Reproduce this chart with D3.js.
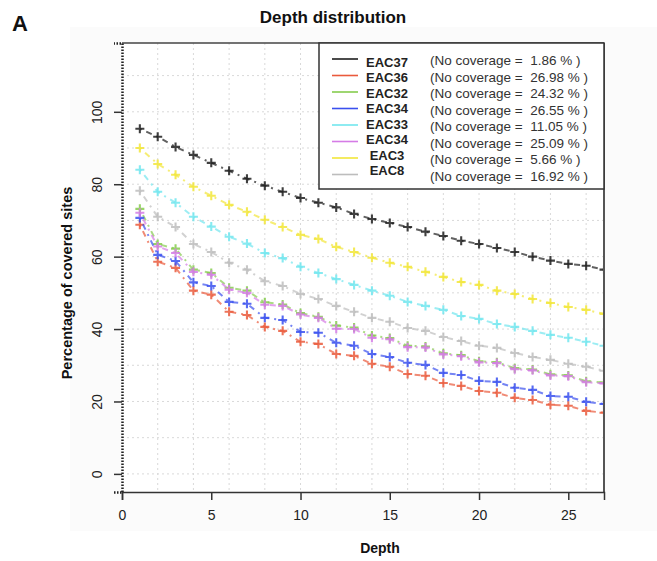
<!DOCTYPE html>
<html>
<head>
<meta charset="utf-8">
<script src="https://cdn.jsdelivr.net/npm/d3@7"></script>
<style>
  html, body { margin: 0; padding: 0; background: #ffffff; }
  svg { display: block; font-family: "Liberation Sans", Arial, sans-serif; }
</style>
</head>
<body>
<svg id="chart" width="657" height="561"></svg>
<script>
// ---------------- DATA ----------------
const depths = [1,2,3,4,5,6,7,8,9,10,11,12,13,14,15,16,17,18,19,20,21,22,23,24,25,26,27];
const seriesNames = ["EAC37","EAC36","EAC32","EAC34","EAC33","EAC34","EAC3","EAC8"];
const noCoverage = ["1.86","26.98","24.32","26.55","11.05","25.09","5.66","16.92"];

const eac37 = [95.3,93.1,90.3,88.1,85.9,83.7,81.5,79.6,77.9,76.2,74.9,73.6,71.8,70.4,69.3,68.2,66.9,65.7,64.4,63.5,62.4,61.3,60.0,58.9,58.0,57.5,56.4];
const eac36 = [68.8,58.6,56.9,50.6,49.5,44.8,43.9,40.6,39.5,36.5,35.9,33.1,32.6,30.4,29.6,27.6,27.1,25.1,24.3,22.9,22.4,21.0,20.4,19.1,18.8,17.4,16.9];
const eac32 = [73.2,63.5,62.2,56.4,55.5,51.4,50.6,47.4,46.8,44.4,43.4,41.0,40.4,38.2,37.5,35.4,35.2,33.3,32.8,31.1,30.8,29.2,28.8,27.5,27.2,25.6,25.2];
const eac34a = [70.7,60.5,58.8,52.9,51.9,47.5,47.0,43.1,42.5,39.2,39.0,36.2,35.4,33.1,32.3,30.7,30.1,27.9,27.3,25.7,25.4,23.8,23.2,21.5,21.3,19.9,19.3];
const eac33 = [84.0,77.9,74.9,71.0,68.3,65.5,63.6,61.0,59.6,57.2,55.5,53.8,52.2,50.6,49.2,47.5,46.4,45.3,43.6,42.8,41.4,40.6,39.5,38.4,37.6,36.5,35.4];
const eac34b = [72.1,62.8,61.0,55.8,55.0,50.9,50.0,46.7,46.4,44.0,43.1,40.1,40.0,37.6,37.2,35.0,34.9,33.0,32.5,30.8,30.6,28.9,28.6,27.2,27.0,25.3,25.0];
const eac3 = [90.0,85.6,82.6,79.3,76.8,74.3,72.4,70.2,68.2,66.0,64.9,62.7,61.3,59.7,58.3,57.2,55.8,54.4,53.0,52.2,50.6,49.7,48.3,47.2,46.1,45.3,44.2];
const eac8 = [78.2,71.0,68.2,63.5,61.3,58.3,56.4,53.2,51.9,49.7,48.3,46.4,44.8,43.1,42.0,40.3,39.5,37.8,36.7,35.4,34.8,33.4,32.3,31.5,30.4,29.6,28.5];

const seriesValues = [eac37, eac36, eac32, eac34a, eac33, eac34b, eac3, eac8];

const xTicks = [0,5,10,15,20,25];
const yTicks = [0,20,40,60,80,100];
const xGrid = [2,4,6,8,10,12,14,16,18,20,22,24,26];
const yGrid = [0,10,20,30,40,50,60,70,80,90,100,110];

// ---------------- STYLE ----------------
const colors = ["#1e1e1e","#ea5a3c","#86cc4e","#3a50ee","#72e6ee","#d57ce6","#f2e63a","#bdbdbd"];

const svg = d3.select("#chart");
const plot = {left: 122, right: 604, top: 43, bottom: 492};

const x = d3.scaleLinear().domain([0, 27]).range([plot.left, plot.right]);
const y = d3.scaleLinear().domain([-5, 119]).range([plot.bottom, plot.top]);

// faint figure panel
svg.append("rect").attr("x", 70).attr("y", 27).attr("width", 587).attr("height", 504)
  .attr("fill", "#fbfbfb");

// plot background
svg.append("rect").attr("x", plot.left).attr("y", plot.top)
  .attr("width", plot.right - plot.left).attr("height", plot.bottom - plot.top)
  .attr("fill", "#ffffff");

// grid
const grid = svg.append("g");
grid.selectAll("line.gx").data(xGrid).join("line")
  .attr("x1", d => x(d)).attr("x2", d => x(d))
  .attr("y1", plot.top).attr("y2", plot.bottom)
  .attr("stroke", "#d9d9d9").attr("stroke-width", 1).attr("stroke-dasharray", "2,3");
grid.selectAll("line.gy").data(yGrid).join("line")
  .attr("x1", plot.left).attr("x2", plot.right)
  .attr("y1", d => y(d)).attr("y2", d => y(d))
  .attr("stroke", "#d9d9d9").attr("stroke-width", 1).attr("stroke-dasharray", "2,3");

// clip
svg.append("clipPath").attr("id", "clip").append("rect")
  .attr("x", plot.left).attr("y", plot.top)
  .attr("width", plot.right - plot.left).attr("height", plot.bottom - plot.top);

const data = seriesNames.map((name, i) => ({
  name, color: colors[i],
  points: depths.map((d, j) => ({d, v: seriesValues[i][j]}))
}));

const line = d3.line().x(p => x(p.d)).y(p => y(p.v));
const g = svg.append("g").attr("clip-path", "url(#clip)");

const sg = g.selectAll("g.series").data(data).join("g").attr("class", "series");
sg.append("path")
  .attr("d", s => line(s.points))
  .attr("fill", "none")
  .attr("stroke", s => s.color)
  .attr("stroke-width", 2)
  .attr("stroke-opacity", 0.7)
  .attr("stroke-dasharray", "2,5,6,5");
sg.selectAll("path.pt").data(s => s.points.map(p => ({...p, color: s.color}))).join("path")
  .attr("class", "pt")
  .attr("transform", p => `translate(${x(p.d)},${y(p.v)})`)
  .attr("d", "M-4.5,0H4.5M0,-4.5V4.5")
  .attr("stroke", p => p.color)
  .attr("stroke-width", 2.1)
  .attr("stroke-opacity", 0.85);

// frame: top and right
svg.append("line").attr("x1", plot.left).attr("x2", plot.right).attr("y1", plot.top).attr("y2", plot.top)
  .attr("stroke", "#444").attr("stroke-width", 1.5);
svg.append("line").attr("x1", plot.right).attr("x2", plot.right).attr("y1", plot.top).attr("y2", plot.bottom)
  .attr("stroke", "#555").attr("stroke-width", 2);

// axes
const xAxis = d3.axisBottom(x).tickValues(xTicks).tickSize(8).tickFormat(d3.format("d"));
const gx = svg.append("g").attr("transform", `translate(0,${plot.bottom})`).call(xAxis);
gx.select(".domain").attr("stroke", "#333").attr("stroke-width", 1.5);
gx.selectAll(".tick line").attr("stroke", "#333").attr("stroke-width", 1.5);
gx.selectAll(".tick text").attr("font-size", 14).attr("fill", "#222")
  .attr("font-family", "Liberation Sans, Arial, sans-serif").attr("dy", "1.2em");

const yAxis = d3.axisLeft(y).tickValues(yTicks).tickSize(8).tickFormat(d3.format("d"));
const gy = svg.append("g").attr("transform", `translate(${plot.left},0)`).call(yAxis);
gy.select(".domain").attr("stroke", "#222").attr("stroke-width", 2.5).attr("stroke-dasharray", "1.5,1.5");
gy.selectAll(".tick line").attr("stroke", "#333").attr("stroke-width", 1.5);
gy.selectAll(".tick text")
  .attr("font-size", 14).attr("fill", "#222")
  .attr("font-family", "Liberation Sans, Arial, sans-serif")
  .attr("text-anchor", "middle")
  .attr("x", 0).attr("dy", 0)
  .attr("transform", d => `translate(-20,${0}) rotate(-90)`);

// titles
svg.append("text").attr("x", 12).attr("y", 31).text("A")
  .attr("font-size", 22).attr("font-weight", "bold").attr("fill", "#111");
svg.append("text").attr("x", 333).attr("y", 23).attr("text-anchor", "middle")
  .text("Depth distribution").attr("font-size", 17).attr("font-weight", "bold").attr("fill", "#111");
svg.append("text").attr("x", 380).attr("y", 553).attr("text-anchor", "middle")
  .text("Depth").attr("font-size", 14).attr("font-weight", "bold").attr("fill", "#111");
svg.append("text").attr("transform", "translate(72,283) rotate(-90)").attr("text-anchor", "middle")
  .text("Percentage of covered sites").attr("font-size", 14.5).attr("font-weight", "bold").attr("fill", "#111");

// legend
const lg = svg.append("g");
lg.append("rect").attr("x", 319).attr("y", 43).attr("width", 285).attr("height", 146)
  .attr("fill", "#ffffff").attr("stroke", "#333").attr("stroke-width", 1.5);
const rows = lg.selectAll("g.row").data(data).join("g").attr("class", "row");
rows.append("line")
  .attr("x1", 332).attr("x2", 358)
  .attr("y1", (d, i) => 59 + i * 16.5).attr("y2", (d, i) => 59 + i * 16.5)
  .attr("stroke", d => d.color).attr("stroke-width", 1.6);
rows.append("text")
  .attr("x", 387).attr("y", (d, i) => 66.5 + i * 15.5)
  .attr("text-anchor", "middle")
  .attr("font-size", 13).attr("font-weight", "bold").attr("fill", "#222")
  .text(d => d.name);
rows.append("text")
  .attr("x", 430).attr("y", (d, i) => 65 + i * 16.5)
  .attr("font-size", 13.5).attr("fill", "#333")
  .style("white-space", "pre")
  .text((d, i) => "(No coverage =  " + noCoverage[i] + " % )");
</script>
</body>
</html>
